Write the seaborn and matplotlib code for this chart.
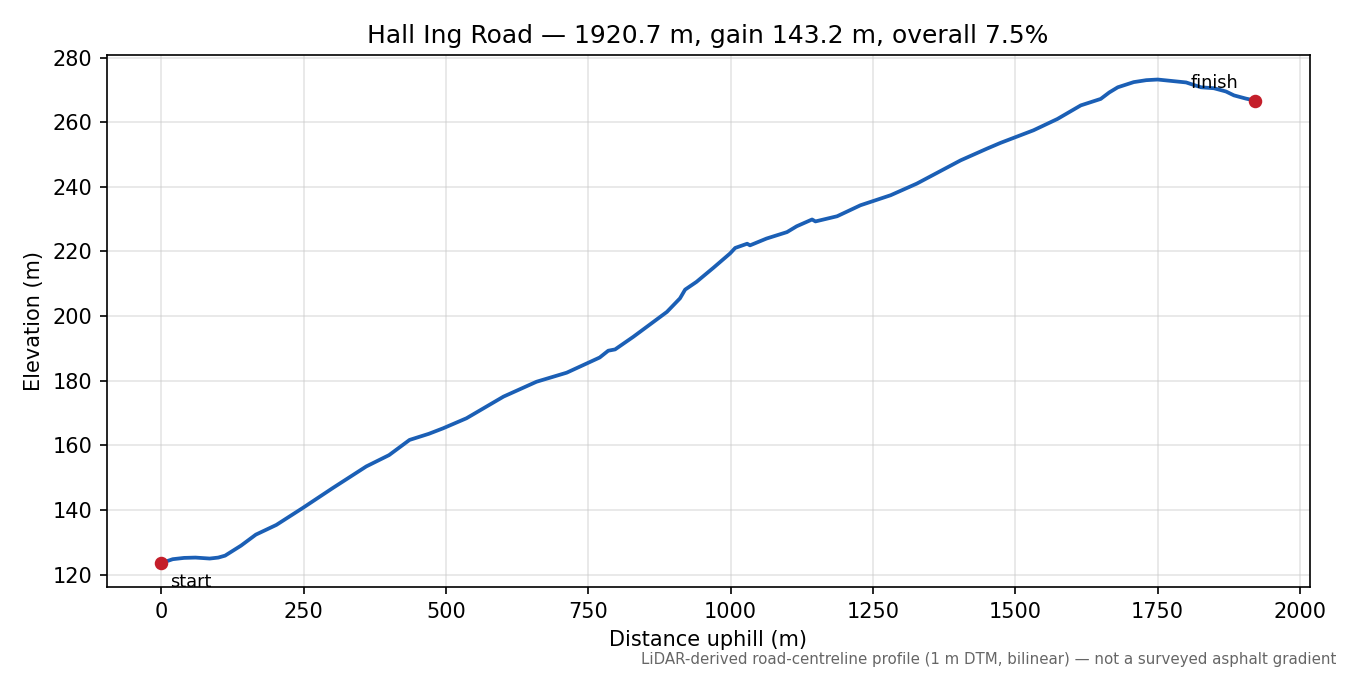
import numpy as np
import pandas as pd
import matplotlib
matplotlib.use("Agg")
import matplotlib.pyplot as plt
import seaborn as sns

# profile (distance uphill in m, elevation in m)
distance_m = [0, 20, 40, 60, 85, 100, 112, 140, 166, 202, 248, 301, 360, 400,
              436, 470, 495, 536, 601, 659, 712, 770, 785, 797, 829, 888, 911,
              920, 940, 970, 999, 1008, 1029, 1034, 1063, 1099, 1116, 1143,
              1149, 1187, 1228, 1281, 1327, 1404, 1450, 1474, 1532, 1574, 1615,
              1650, 1665, 1680, 1708, 1730, 1750, 1800, 1826, 1849, 1870, 1884,
              1905, 1920.7]
elevation_m = [123.6, 124.8, 125.2, 125.3, 125.0, 125.3, 125.9, 129.0, 132.4,
               135.4, 140.6, 146.8, 153.5, 157.0, 161.7, 163.6, 165.3, 168.4,
               175.1, 179.7, 182.5, 187.2, 189.3, 189.7, 193.6, 201.3, 205.5,
               208.2, 210.6, 215.0, 219.4, 221.1, 222.4, 221.9, 224.0, 226.0,
               227.8, 229.9, 229.3, 230.9, 234.3, 237.4, 241.0, 248.2, 251.8,
               253.6, 257.5, 261.0, 265.2, 267.2, 269.2, 270.8, 272.4, 273.0,
               273.2, 272.3, 270.8, 270.5, 269.5, 268.3, 267.3, 266.7]

road_name = "Hall Ing Road"
length_m = 1920.7
gain_m = 143.2
overall_pct = 7.5

df = pd.DataFrame({"distance": distance_m, "elevation": elevation_m})
ends = df.iloc[[0, -1]]

fig, ax = plt.subplots(figsize=(9, 4.5), dpi=150)
fig.subplots_adjust(left=0.079, right=0.970, top=0.918, bottom=0.130)

sns.lineplot(data=df, x="distance", y="elevation", ax=ax,
             color="#1b5fb5", linewidth=1.8)
ax.scatter(ends["distance"], ends["elevation"], color="#c41e2a", s=30, zorder=5)

ax.annotate("start", (distance_m[0], elevation_m[0]), xytext=(4, -5),
            textcoords="offset points", ha="left", va="top", fontsize=8.5)
ax.annotate("finish", (distance_m[-1], elevation_m[-1]), xytext=(-8, 4),
            textcoords="offset points", ha="right", va="bottom", fontsize=8.5)

ax.set_title(f"{road_name} \u2014 {length_m:.1f} m, gain {gain_m:.1f} m, "
             f"overall {overall_pct:.1f}%", fontsize=12)
ax.set_xlabel("Distance uphill (m)")
ax.set_ylabel("Elevation (m)")
ax.grid(True, color="#cccccc", alpha=0.5, linewidth=0.8)
ax.set_axisbelow(True)

fig.text(0.99, 0.012, "LiDAR-derived road-centreline profile (1 m DTM, bilinear) "
         "\u2014 not a surveyed asphalt gradient",
         ha="right", va="bottom", fontsize=7.2, color="#666666")

fig.savefig("out.png", dpi=150)
